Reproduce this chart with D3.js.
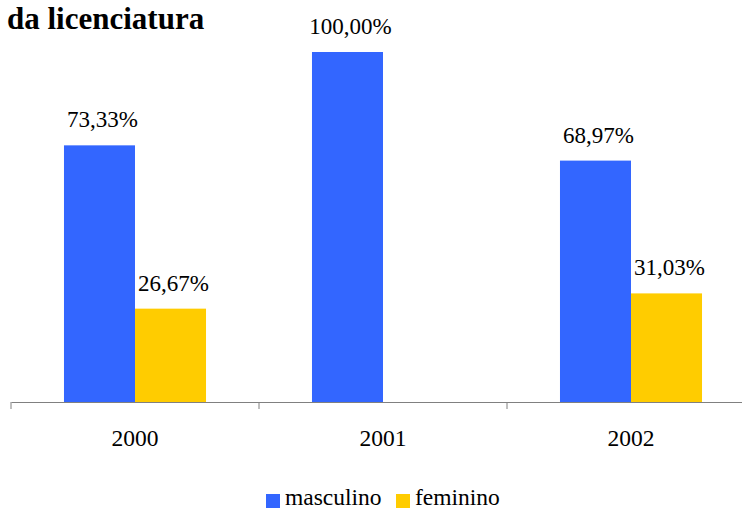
<!DOCTYPE html>
<html><head><meta charset="utf-8">
<script src="https://cdn.jsdelivr.net/npm/d3@7"></script>
</head><body>
<script>
const categories = ["2000", "2001", "2002"];
const series = ["masculino", "feminino"];
const masculino = [73.33, 100.00, 68.97];
const feminino = [26.67, null, 31.03];
const colors = ["#3366FF", "#FFCC00"];
const title = "da licenciatura";

const W = 742, H = 509;
d3.select("body").style("margin", "0px");
const svg = d3.select("body").append("svg").attr("width", W).attr("height", H)
  .style("position", "absolute").style("left", "0px").style("top", "0px").style("background", "#fff");
const F = s => s + " 'Liberation Serif'";

const x0 = d3.scaleBand().domain(categories).range([11, 755]).padding(0);
const x1 = d3.scaleBand().domain(series).range([0, x0.bandwidth()]).paddingInner(0).paddingOuter(0.746);
const y = d3.scaleLinear().domain([0, 100]).range([402, 52]);
const color = d3.scaleOrdinal().domain(series).range(colors);

const values = { masculino, feminino };
const data = [];
categories.forEach((c, i) => series.forEach(s => {
  if (values[s][i] != null) data.push({ c, s, v: values[s][i] });
}));

svg.append("text").attr("x", 7).attr("y", 29).style("font", F("bold 31px"))
  .style("fill", "#000").text(title);

svg.selectAll("rect.bar").data(data).join("rect").attr("class", "bar")
  .attr("x", d => x0(d.c) + x1(d.s)).attr("width", x1.bandwidth())
  .attr("y", d => y(d.v)).attr("height", d => y(0) - y(d.v))
  .attr("fill", d => color(d.s));

const fmt = v => v.toFixed(2).replace(".", ",") + "%";
svg.selectAll("text.lbl").data(data).join("text").attr("class", "lbl")
  .attr("x", d => x0(d.c) + x1(d.s) + x1.bandwidth() / 2 + 3)
  .attr("y", d => y(d.v) - 18)
  .attr("text-anchor", "middle").style("font", F("23px"))
  .style("fill", "#000").text(d => fmt(d.v));

const axis = d3.axisBottom(x0).tickSizeInner(0).tickSizeOuter(0).tickPadding(27);
const gx = svg.append("g").attr("transform", `translate(0,${y(0)})`).call(axis);
gx.attr("font-family", null).attr("font-size", null);
gx.select(".domain").attr("stroke", "#808080");
gx.selectAll("text").style("font", F("23.5px")).style("fill", "#000");
const bounds = categories.map(c => x0(c)).concat([x0.range()[1]]);
gx.selectAll("line.bt").data(bounds).join("line").attr("class", "bt")
  .attr("x1", d => d).attr("x2", d => d).attr("y1", 0).attr("y2", 7)
  .attr("stroke", "#808080");

const leg = svg.append("g");
const legX = [266, 396];
series.forEach((s, i) => {
  leg.append("rect").attr("x", legX[i]).attr("y", 494).attr("width", 14).attr("height", 14).attr("fill", color(s));
  leg.append("text").attr("x", legX[i] + 19).attr("y", 505).style("font", F("23.5px"))
    .style("fill", "#000").text(s);
});
</script>
</body></html>
